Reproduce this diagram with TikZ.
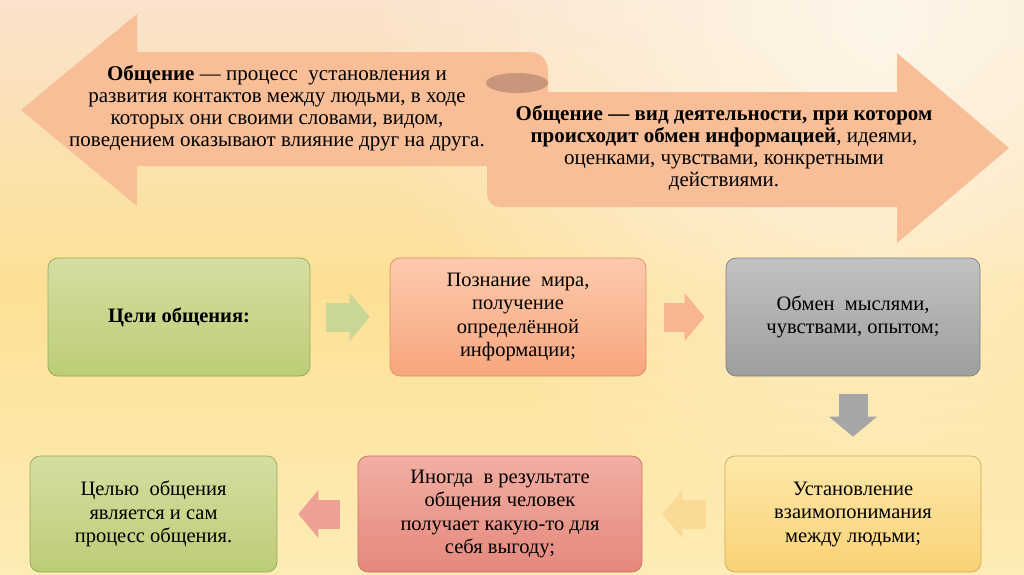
\documentclass[tikz,border=0pt]{standalone}
\usepackage{fontspec}
\setmainfont{Liberation Serif}
\usepackage{tikz}
\usetikzlibrary{positioning,arrows.meta,fadings}
\usepackage{xcolor}

\definecolor{bgTop}{RGB}{250,226,204}
\definecolor{bgMid}{RGB}{253,224,148}
\definecolor{bgBot}{RGB}{253,236,182}
\definecolor{bgCream}{RGB}{254,246,232}
\definecolor{salmon}{RGB}{248,190,152}
\definecolor{scrollDark}{RGB}{200,150,122}

\tikzfading[name=glowOut, inner color=transparent!0, outer color=transparent!100]

\tikzset{
  box/.style={draw, rounded corners=10pt, align=center, line width=0.7pt,
    minimum height=118pt, inner sep=2pt, font=\fontsize{20.5}{23.5}\selectfont},
  blockarr/.style={line width=29pt, -{Triangle[length=20pt,width=48pt,line width=0pt]}},
}

\begin{document}
\begin{tikzpicture}[x=1pt,y=-1pt]

    \useasboundingbox (0,0) rectangle (1024,574);
    \shade[top color=bgTop, bottom color=bgBot, middle color=bgMid] (0,0) rectangle (1024,574);
    \fill[bgCream, path fading=glowOut] (880,20) circle (520);
    \clip (0,0) rectangle (1024,574);

    % big opposing arrows
    \fill[salmon] (897,53) -- (1009,148) -- (897,243) -- (897,207) -- (500,207)
        arc (90:180:13) -- (487,92) -- (897,92) -- cycle;
    \fill[salmon] (21,110) -- (137,14) -- (137,52) -- (530,52) arc (-90:0:18)
        -- (548,166) -- (137,166) -- (137,206) -- cycle;
    \fill[scrollDark] (517,83) ellipse (31 and 10);

    \node[align=center, font=\fontsize{21}{22}\selectfont] (ObPr) at (277,108)
        {\textbf{Общение} — процесс\ \ установления и\\развития контактов между людьми, в ходе\\которых они своими словами, видом,\\поведением оказывают влияние друг на друга.};
    \node[align=center, font=\fontsize{21}{22}\selectfont] (ObVi) at (724,148)
        {\textbf{Общение — вид деятельности, при котором}\\\textbf{происходит обмен информацией}, идеями,\\оценками, чувствами, конкретными\\действиями.};

    % goals
    \node[box, top color={rgb,255:red,213;green,222;blue,162}, bottom color={rgb,255:red,188;green,205;blue,118}, draw={rgb,255:red,150;green,168;blue,88}, minimum width=262pt] (CeOb) at (179,317) {\textbf{Цели общения:}};
    \node[box, top color={rgb,255:red,252;green,202;blue,172}, bottom color={rgb,255:red,248;green,166;blue,126}, draw={rgb,255:red,222;green,142;blue,104}, minimum width=256pt] (PoMi) at (518,317) {Познание\ \ мира,\\получение\\определённой\\информации;};
    \node[box, top color={rgb,255:red,194;green,194;blue,194}, bottom color={rgb,255:red,158;green,158;blue,158}, draw={rgb,255:red,128;green,128;blue,128}, minimum width=254pt] (ObMy) at (853,317) {Обмен\ \ мыслями,\\чувствами, опытом;};

    \node[box, top color={rgb,255:red,253;green,232;blue,168}, bottom color={rgb,255:red,250;green,210;blue,118}, draw={rgb,255:red,205;green,170;blue,92}, minimum width=256pt, minimum height=116pt] (UsVz) at (853,514) {Установление\\взаимопонимания\\между людьми;};
    \node[box, top color={rgb,255:red,242;green,174;blue,162}, bottom color={rgb,255:red,229;green,136;blue,124}, draw={rgb,255:red,200;green,112;blue,100}, minimum width=284pt, minimum height=116pt] (InVy) at (500,514) {Иногда\ \ в результате\\общения человек\\получает какую-то для\\себя выгоду;};
    \node[box, top color={rgb,255:red,213;green,222;blue,162}, bottom color={rgb,255:red,188;green,205;blue,118}, draw={rgb,255:red,150;green,168;blue,88}, minimum width=247pt, minimum height=116pt] (CeSa) at (153.5,514) {Целью\ \ общения\\является и сам\\процесс общения.};

    \draw[blockarr, draw={rgb,255:red,200;green,214;blue,150}, shorten <=16pt, shorten >=20pt] (CeOb) -- (PoMi);
    \draw[blockarr, draw={rgb,255:red,249;green,180;blue,146}, shorten <=18pt, shorten >=21pt] (PoMi) -- (ObMy);
    \draw[blockarr, draw={rgb,255:red,166;green,166;blue,166}, shorten <=18pt, shorten >=19pt] (ObMy) -- (UsVz);
    \draw[blockarr, draw={rgb,255:red,251;green,218;blue,150}, shorten <=19pt, shorten >=20pt] (UsVz) -- (InVy);
    \draw[blockarr, draw={rgb,255:red,238;green,160;blue,148}, shorten <=18pt, shorten >=21pt] (InVy) -- (CeSa);

  \end{tikzpicture}
\end{document}
